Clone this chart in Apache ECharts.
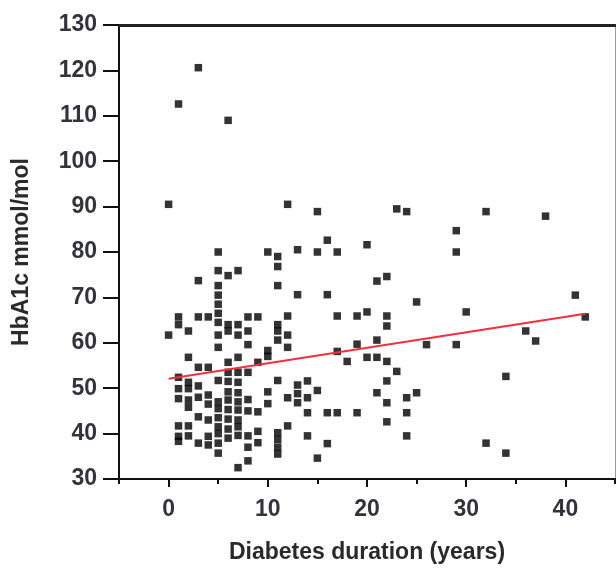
<!DOCTYPE html>
<html>
<head>
<meta charset="utf-8">
<script src="https://cdn.jsdelivr.net/npm/echarts@6/dist/echarts.min.js"></script>
<style>html,body{margin:0;padding:0;background:#fff;}#c{width:616px;height:569px;}</style>
</head>
<body>
<div id="c"></div>
<script>
// Diabetes duration (years) and HbA1c (mmol/mol), paired by index
var duration = [
  0,0,
  1,1,1,1,1,1,1,1,1,
  2,2,2,2,2,2,2,2,
  3,3,3,3,3,3,3,3,
  4,4,4,4,4,4,4,
  5,5,5,5,5,5,5,5,5,5,5,5,5,5,5,5,5,
  6,6,6,6,6,6,6,6,6,6,6,6,6,
  7,7,7,7,7,7,7,7,7,7,7,7,7,
  8,8,8,8,8,8,8,8,8,
  9,9,9,9,9,
  10,10,10,10,10,
  11,11,11,11,11,11,11,11,11,11,11,
  12,12,12,12,12,12,
  13,13,13,13,13,
  14,14,14,14,
  15,15,15,15,
  16,16,16,16,
  17,17,17,17,
  18,
  19,19,19,
  20,20,20,
  21,21,21,21,
  22,22,22,22,22,22,22,
  23,23,
  24,24,24,24,
  25,25,
  26,
  29,29,29,
  30,
  32,32,
  34,34,
  36,37,38,41,42
];
var hba1c = [
  90.5,61.7,
  112.6,65.7,64,52.4,49.9,47.7,41.7,39.4,38.3,
  62.6,56.8,51.3,49.9,47.4,45.8,41.7,39.5,
  120.6,73.7,65.7,54.6,50.5,48,43.7,37.9,
  65.7,54.6,48.5,46.5,43,39.4,37.5,
  80,75.9,72.6,70.5,68.5,66.5,64.5,61.7,59,51.7,47,45.5,43.5,41.5,40,37.9,35.7,
  109,74.8,64,62.6,55.7,53.5,51.5,49.2,47.4,45.3,43.2,41,39,
  75.9,64,61.7,56.8,53.5,51.3,49,47,45.2,43,41.5,39.6,32.5,
  65.7,62.6,59.6,53.5,47.5,45,39.5,37,34,
  65.7,55.7,44.8,40.5,38,
  80,58.3,57,49.2,46.6,
  79,76.8,72.6,64,62.6,60.6,51.7,40.2,38.7,37,35.5,
  90.5,65.9,61.7,59,47.9,41.7,
  80.5,70.6,50.7,48.8,46.8,
  51.6,47.9,44.6,39.5,
  88.9,80,49.5,34.6,
  82.6,70.6,44.6,37.8,
  80,65.9,58.1,44.6,
  55.9,
  65.9,59.7,44.6,
  81.6,66.8,56.8,
  73.6,60.6,56.8,49,
  74.6,65.9,63.7,55.9,51.6,46.8,42.6,
  89.5,53.7,
  88.9,47.9,44.6,39.5,
  69,49,
  59.6,
  84.7,80,59.6,
  66.8,
  88.9,37.9,
  52.6,35.7,
  62.6,60.4,87.9,70.5,65.7
];
var fitX = [0, 42];
var fitY = [52.1, 66.4];
var xMajorTicks = [0, 10, 20, 30, 40];
var xMinorTicks = [-5, 5, 15, 25, 35, 45];

var points = duration.map(function (d, i) { return [d, hba1c[i]]; });
var fitLine = fitX.map(function (d, i) { return [d, fitY[i]]; });

var font = 'Liberation Sans, Arial, sans-serif';
var chart = echarts.init(document.getElementById('c'), null, {renderer: 'canvas'});
chart.setOption({
  animation: false,
  backgroundColor: '#ffffff',
  grid: {left: 119, top: 25, right: 1, bottom: 85, containLabel: false},
  xAxis: [
    {
      type: 'value', min: -5, max: 45, position: 'bottom',
      name: 'Diabetes duration (years)', nameLocation: 'middle', nameGap: 62,
      nameTextStyle: {fontFamily: font, fontSize: 23, fontWeight: 'bold', color: '#2a2a2a'},
      axisLine: {show: true, onZero: false, lineStyle: {color: '#111111', width: 2}},
      axisTick: {show: true, customValues: xMajorTicks, length: 8, lineStyle: {color: '#111111', width: 2}},
      axisLabel: {customValues: xMajorTicks, fontFamily: font, fontSize: 23, fontWeight: 'bold', color: '#33333d', margin: 19},
      splitLine: {show: false}
    },
    {
      type: 'value', min: -5, max: 45, position: 'bottom',
      axisLine: {show: false},
      axisTick: {show: true, customValues: xMinorTicks, length: 5, lineStyle: {color: '#111111', width: 2}},
      axisLabel: {show: false},
      splitLine: {show: false}
    },
    {
      type: 'value', min: -5, max: 45, position: 'top',
      axisLine: {show: true, onZero: false, lineStyle: {color: '#222222', width: 3}},
      axisTick: {show: false}, axisLabel: {show: false}, splitLine: {show: false}
    }
  ],
  yAxis: [
    {
      type: 'value', min: 30, max: 130, interval: 10, position: 'left',
      name: 'HbA1c mmol/mol', nameLocation: 'middle', nameGap: 86, nameRotate: 90,
      nameTextStyle: {fontFamily: font, fontSize: 23, fontWeight: 'bold', color: '#2a2a2a'},
      axisLine: {show: true, onZero: false, lineStyle: {color: '#111111', width: 2}},
      axisTick: {show: true, length: 16, lineStyle: {color: '#111111', width: 2}},
      axisLabel: {fontFamily: font, fontSize: 23, fontWeight: 'bold', color: '#33333d', margin: 22},
      splitLine: {show: false}
    },
    {
      type: 'value', min: 30, max: 130, interval: 10, position: 'right',
      axisLine: {show: true, onZero: false, lineStyle: {color: '#999999', width: 1}},
      axisTick: {show: false}, axisLabel: {show: false}, splitLine: {show: false}
    }
  ],
  series: [
    {
      type: 'scatter', xAxisIndex: 0, yAxisIndex: 0,
      symbol: 'rect', symbolSize: 7.5,
      itemStyle: {color: '#000000'},
      data: points, z: 2
    },
    {
      type: 'line', xAxisIndex: 0, yAxisIndex: 0,
      symbol: 'none', silent: true,
      lineStyle: {color: '#f2303c', width: 2},
      data: fitLine, z: 3
    }
  ]
});
</script>
</body>
</html>
